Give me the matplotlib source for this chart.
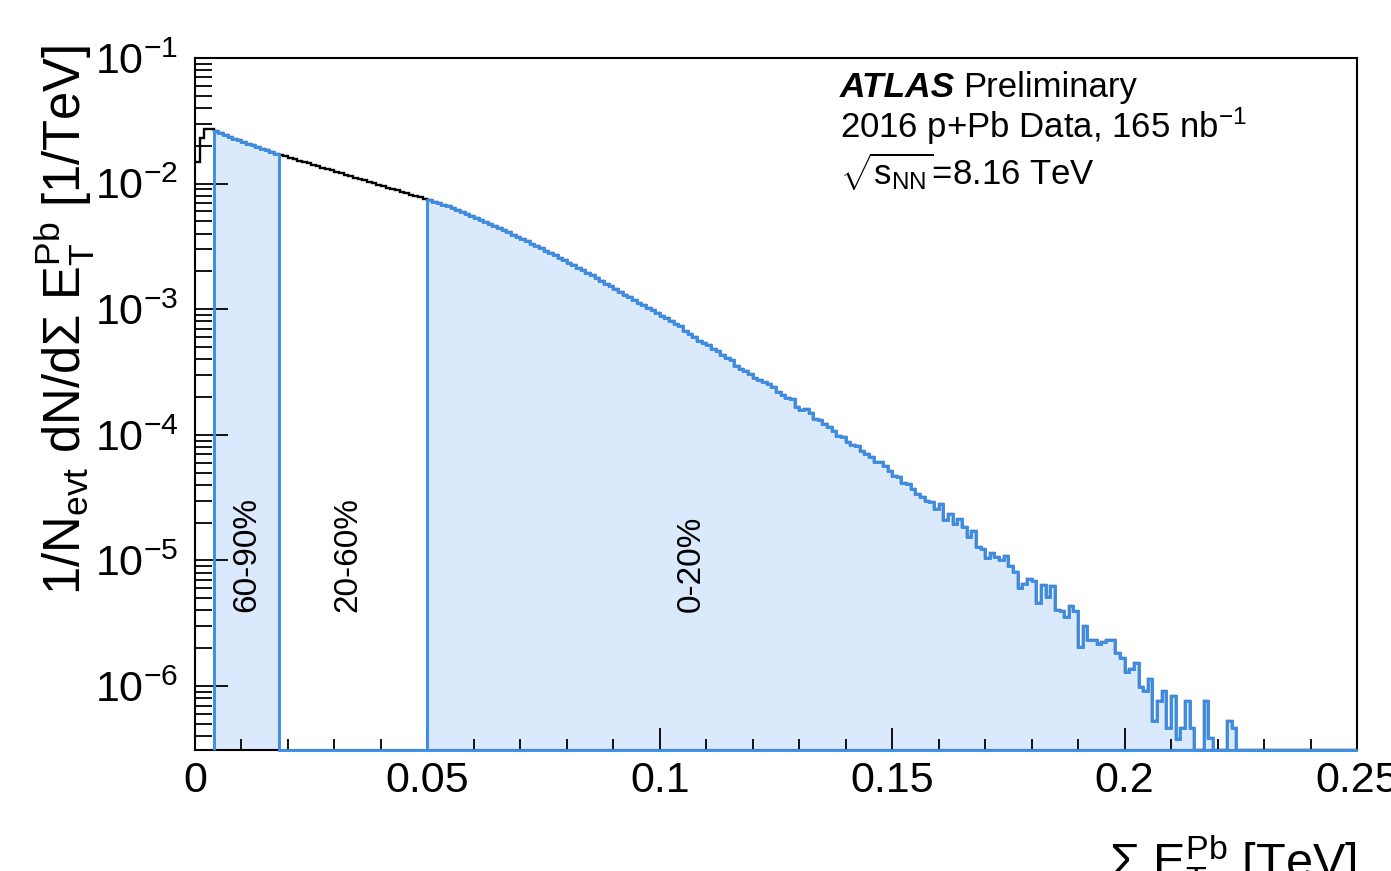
import numpy as np
import matplotlib
matplotlib.use("Agg")
import matplotlib.pyplot as plt
from matplotlib.ticker import FixedLocator, FixedFormatter, LogLocator, NullFormatter, MultipleLocator
from matplotlib.transforms import blended_transform_factory

plt.rcParams['font.family'] = ['Liberation Sans', 'DejaVu Sans']
plt.rcParams['mathtext.fontset'] = 'custom'
plt.rcParams['mathtext.rm'] = 'Liberation Sans'
plt.rcParams['mathtext.it'] = 'Liberation Sans:italic'
plt.rcParams['mathtext.bf'] = 'Liberation Sans:bold'
plt.rcParams['mathtext.sf'] = 'Liberation Sans'

inf = float('inf')

# ---------------- data ----------------
bin_width = 0.001  # TeV
# log10 of 1/N dN/dSumET per 1 MeV bin, starting at 0; -inf = empty bin
log10_density = [
    -1.828, -1.633, -1.567, -1.567, -1.579, -1.595, -1.611, -1.627, -1.641, -1.655,   # 0-9
    -1.669, -1.681, -1.695, -1.708, -1.721, -1.735, -1.748, -1.761, -1.771, -1.782,   # 10-19
    -1.794, -1.805, -1.816, -1.828, -1.839, -1.850, -1.861, -1.873, -1.884, -1.895,   # 20-29
    -1.907, -1.918, -1.929, -1.941, -1.952, -1.963, -1.975, -1.986, -1.997, -2.009,   # 30-39
    -2.020, -2.031, -2.043, -2.054, -2.065, -2.077, -2.088, -2.099, -2.110, -2.122,   # 40-49
    -2.133, -2.145, -2.157, -2.169, -2.181, -2.193, -2.209, -2.225, -2.241, -2.258,   # 50-59
    -2.274, -2.291, -2.307, -2.324, -2.340, -2.356, -2.373, -2.389, -2.406, -2.422,   # 60-69
    -2.441, -2.460, -2.478, -2.496, -2.516, -2.534, -2.553, -2.571, -2.591, -2.611,   # 70-79
    -2.631, -2.651, -2.671, -2.691, -2.711, -2.731, -2.752, -2.775, -2.796, -2.818,   # 80-89
    -2.840, -2.862, -2.884, -2.905, -2.926, -2.947, -2.968, -2.989, -3.010, -3.031,   # 90-99
    -3.052, -3.073, -3.094, -3.116, -3.137, -3.175, -3.195, -3.222, -3.249, -3.270,   # 100-109
    -3.288, -3.315, -3.334, -3.368, -3.386, -3.408, -3.448, -3.474, -3.488, -3.514,   # 110-119
    -3.546, -3.567, -3.581, -3.599, -3.621, -3.661, -3.679, -3.705, -3.713, -3.775,   # 120-129
    -3.801, -3.793, -3.828, -3.873, -3.878, -3.912, -3.939, -3.966, -4.006, -4.019,   # 130-139
    -4.059, -4.077, -4.085, -4.125, -4.151, -4.179, -4.218, -4.218, -4.245, -4.285,   # 140-149
    -4.324, -4.338, -4.386, -4.390, -4.430, -4.470, -4.492, -4.524, -4.537, -4.590,   # 150-159
    -4.550, -4.677, -4.630, -4.709, -4.669, -4.731, -4.816, -4.768, -4.890, -4.908,   # 160-169
    -4.980, -4.943, -4.970, -4.996, -4.962, -5.041, -5.095, -5.219, -5.187, -5.147,   # 170-179
    -5.161, -5.342, -5.195, -5.294, -5.201, -5.394, -5.406, -5.448, -5.360, -5.406,   # 180-189
    -5.687, -5.520, -5.631, -5.633, -5.665, -5.645, -5.633, -5.633, -5.740, -5.777,   # 190-199
    -5.884, -5.865, -5.820, -6.006, -6.037, -5.944, -6.276, -6.117, -6.037, -6.335,   # 200-209
    -6.077, -6.422, -6.335, -6.117, -6.335, -inf, -inf, -6.117, -6.414, -inf,          # 210-219
    -inf, -inf, -6.276, -6.335,                                                        # 220-223
]
x_range = (0.0, 0.25)
y_range = (3.1e-7, 0.1)
centrality_edges = [0.004, 0.018, 0.050]          # 60-90 | 20-60 | 0-20 boundaries
centrality_labels = ['60-90%', '20-60%', '0-20%']
centrality_label_x = [0.0112, 0.0328, 0.1068]
xtick_values = [0.0, 0.05, 0.10, 0.15, 0.20, 0.25]
xtick_labels = ['0', '0.05', '0.1', '0.15', '0.2', '0.25']

# ---------------- figure ----------------
W, H = 1391, 871
fig = plt.figure(figsize=(W / 100, H / 100), dpi=100)
ax = fig.add_axes([195 / W, 1 - 750 / H, 1162 / W, 692 / H])
ax.set_yscale('log')
ax.set_xlim(*x_range)
ax.set_ylim(*y_range)

blue = '#3d8fe6'
fill_col = '#dae9fb'
ymin = y_range[0]

n_axis_bins = int(round((x_range[1] - x_range[0]) / bin_width))
full = np.zeros(n_axis_bins)
dens = np.power(10.0, np.array(log10_density))
full[:len(dens)] = dens
edges = x_range[0] + np.arange(n_axis_bins + 1) * bin_width
shown = np.where(full > 0, full, ymin)

ia = int(round(centrality_edges[0] / bin_width))
ib = int(round(centrality_edges[1] / bin_width))
ic = int(round(centrality_edges[2] / bin_width))

# fills
ax.stairs(shown[ia:ib], edges[ia:ib + 1], baseline=ymin, fill=True,
          color=fill_col, lw=0, zorder=1)
ax.stairs(shown[ic:], edges[ic:], baseline=ymin, fill=True,
          color=fill_col, lw=0, zorder=1)

# full black histogram
ax.stairs(shown, edges, baseline=None, color='black', lw=1.7, zorder=2)

# blue outlines
seg = shown[ia:].copy()
seg[ib - ia:] = ymin
ax.stairs(seg, edges[ia:], baseline=ymin, color=blue, lw=2.1, zorder=3, clip_on=False)
ax.stairs(shown[ic:], edges[ic:], baseline=ymin, color=blue, lw=2.1, zorder=3, clip_on=False)

# ticks
ax.xaxis.set_major_locator(FixedLocator(xtick_values))
ax.xaxis.set_major_formatter(FixedFormatter(xtick_labels))
ax.xaxis.set_minor_locator(MultipleLocator(0.01))
ax.yaxis.set_major_locator(LogLocator(base=10, numticks=20))
ax.yaxis.set_minor_locator(LogLocator(base=10, subs=np.arange(2, 10), numticks=100))
ax.yaxis.set_minor_formatter(NullFormatter())

ax.tick_params(axis='x', which='major', direction='in', length=16, width=1.3,
               labelsize=31, pad=8, top=False)
ax.tick_params(axis='x', which='minor', direction='in', length=8, width=1.3, top=False)
ax.tick_params(axis='y', which='major', direction='in', length=24, width=1.3,
               labelsize=31, pad=12, right=False)
ax.tick_params(axis='y', which='minor', direction='in', length=12, width=1.3, right=False)
for s in ax.spines.values():
    s.set_linewidth(1.5)

# centrality labels
trans = blended_transform_factory(ax.transData, ax.transAxes)
for lx, lab in zip(centrality_label_x, centrality_labels):
    ax.text(lx, (750 - 612) / 692, lab, rotation=90, ha='center', va='bottom',
            fontsize=24, transform=trans, zorder=5)

# axis titles
fig.text(65 / W, 1 - 45 / H,
         r'1/N$_{\mathrm{evt}}$ dN/d$\Sigma$ E$_{\mathrm{T}}^{\mathrm{Pb}}$ [1/TeV]',
         rotation=90, ha='center', va='top', fontsize=36.5)
fig.text(1357 / W, 1 - 878 / H,
         r'$\Sigma$ E$_{\mathrm{T}}^{\mathrm{Pb}}$ [TeV]',
         ha='right', va='baseline', fontsize=35)

# ATLAS label
fig.text(840 / W, 1 - 97 / H, 'ATLAS', fontsize=25.5, fontweight='bold',
         fontstyle='italic', va='baseline', ha='left')
fig.text(963 / W, 1 - 97 / H, 'Preliminary', fontsize=25, va='baseline', ha='left')
fig.text(840 / W, 1 - 138 / H, r'2016 p+Pb Data, 165 nb$^{\mathrm{-1}}$',
         fontsize=25, va='baseline', ha='left')
fig.text(840 / W, 1 - 185 / H, r'$\sqrt{\mathrm{s}_{\mathrm{NN}}}$=8.16 TeV',
         fontsize=25, va='baseline', ha='left')

fig.savefig('out.png', dpi=100)
